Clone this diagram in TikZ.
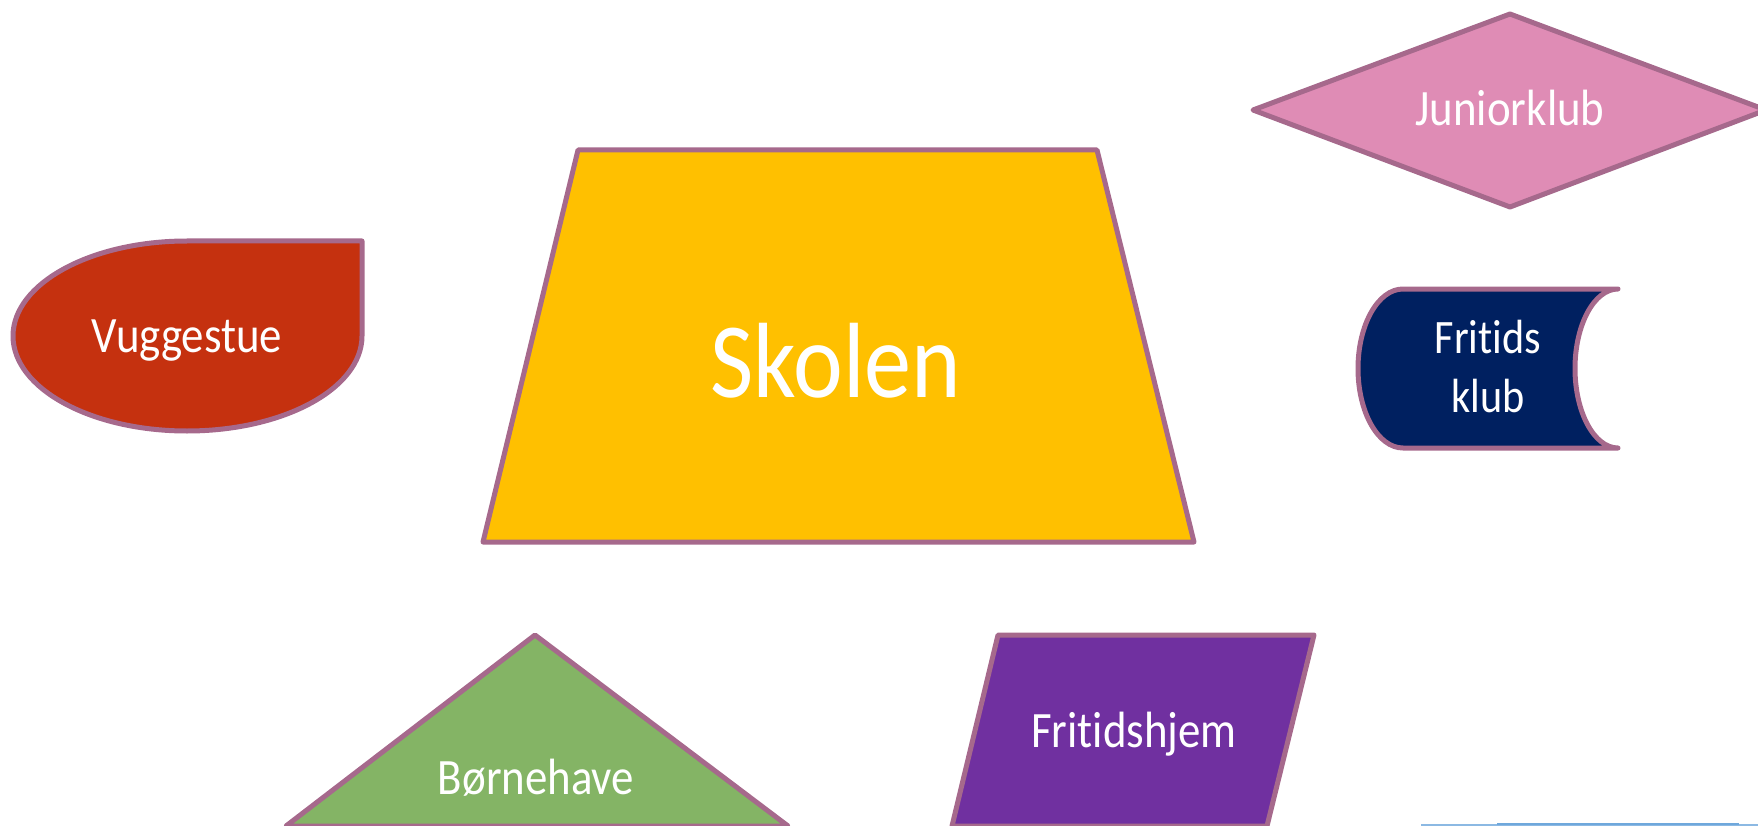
\documentclass[tikz,border=0pt]{standalone}
\usepackage{fontspec}
\setmainfont[FakeStretch=0.88, Ligatures=NoCommon]{Carlito}
\usetikzlibrary{positioning}
\definecolor{rim}{RGB}{166,105,140}
\definecolor{skolegul}{HTML}{FFC000}
\definecolor{vuggerod}{HTML}{C5310F}
\definecolor{juniorrosa}{HTML}{DF8CB5}
\definecolor{klubblaa}{HTML}{002060}
\definecolor{havegron}{HTML}{84B465}
\definecolor{hjemlilla}{HTML}{7030A0}
\definecolor{linjeblaa}{HTML}{6FA8DC}

\begin{document}
\begin{tikzpicture}[x=1pt, y=-1pt,
        blok/.style = {draw=rim, line width=5pt, line join=round, line cap=round},
        tekst/.style = {text=white, anchor=base, inner sep=0pt, align=center,
                        font=\fontsize{51}{59}\selectfont},
        stortekst/.style = {tekst, font=\fontsize{107}{120}\selectfont}]
        \useasboundingbox (0,0) rectangle (1758,826);
        % shapes
        \draw[blok, fill=skolegul] (578,150) -- (1097,150) -- (1194,542) -- (483,542) -- cycle;
        \draw[blok, fill=vuggerod] (362,241) -- (187,241)
                arc[start angle=270, end angle=90, x radius=174, y radius=95]
                arc[start angle=90, end angle=0, x radius=175, y radius=95] -- cycle;
        \draw[blok, fill=juniorrosa] (1253,110) -- (1510,14) -- (1766,110) -- (1510,207) -- cycle;
        \draw[blok, fill=klubblaa] (1403,289) -- (1618,289)
                arc[start angle=270, end angle=90, x radius=43, y radius=79.5]
                -- (1403,448)
                arc[start angle=90, end angle=270, x radius=45, y radius=79.5] -- cycle;
        \draw[blok, fill=havegron] (535,635) -- (788,826) -- (286,826) -- cycle;
        \draw[blok, fill=hjemlilla] (998,635) -- (1314,635) -- (1267,826) -- (952,826) -- cycle;
        \draw[linjeblaa!80, line width=1.5pt] (1421,825) -- (1758,825);
        \draw[linjeblaa, line width=2.5pt] (1497,824) -- (1739,824);
        % labels
        \draw node[stortekst] (skolen) at (836,397) {Skolen};
        \draw node[tekst] (vuggestue) at (187,352) {Vuggestue};
        \draw node[tekst] (juniorklub) at (1510,126) {Juniorklub};
        \draw node[tekst, font=\fontsize{48}{59}\selectfont] (fritidsklub) at (1488,412) {Fritids\\klub};
        \draw node[tekst] (fritidshjem) at (1134,747) {Fritidshjem};
        \draw node[tekst] (bornehave) at (536,794) {Børnehave};
\end{tikzpicture}
\end{document}
